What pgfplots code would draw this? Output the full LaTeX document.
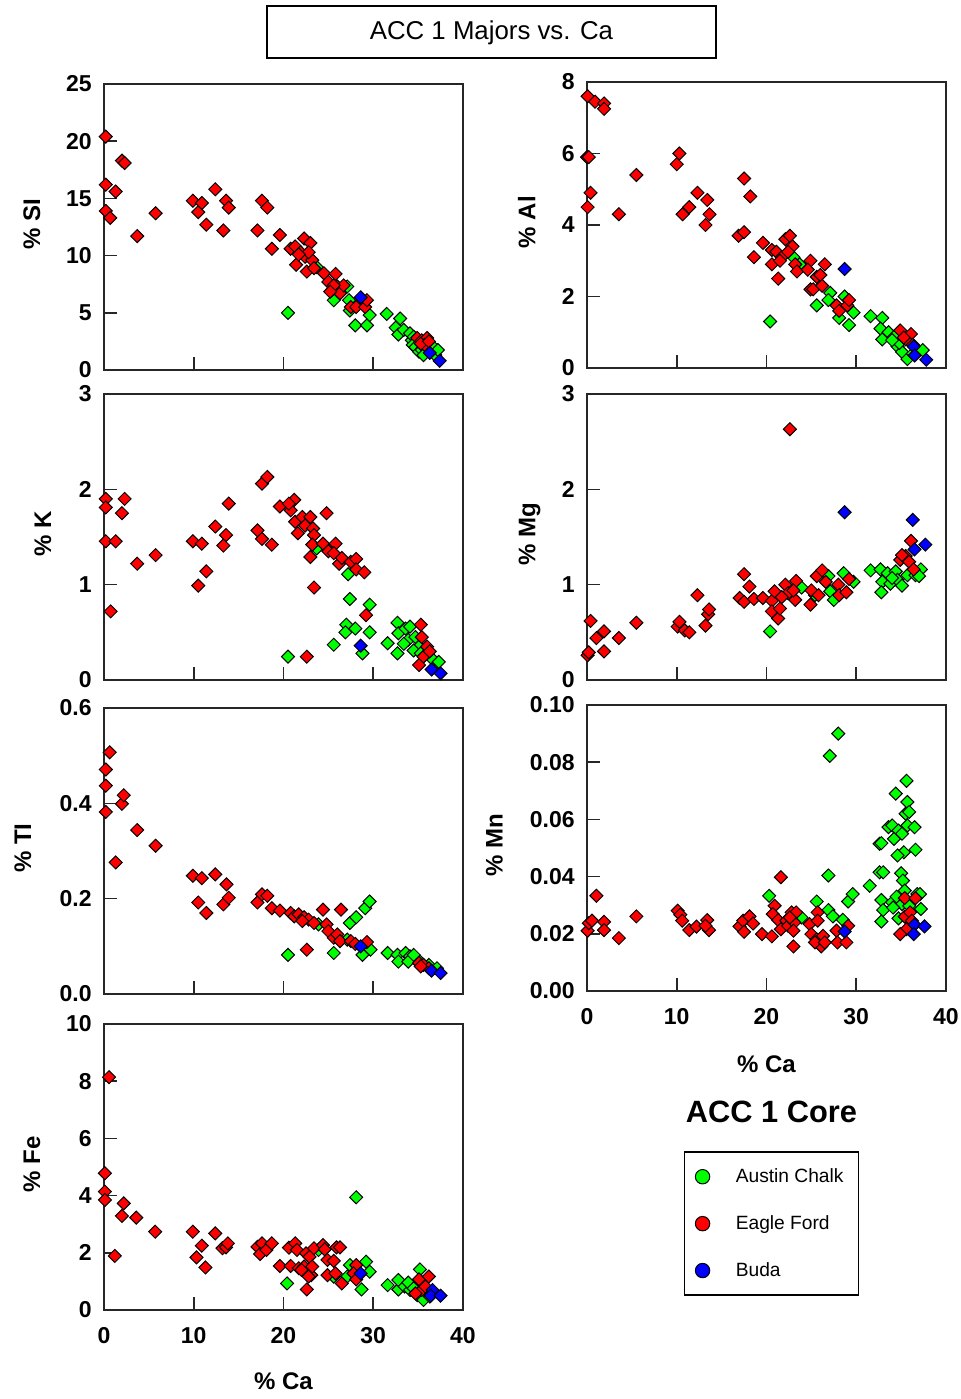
\documentclass[border=0pt]{standalone}
\usepackage{fontspec}
\setmainfont{Liberation Sans}
\usepackage{pgfplots}
\pgfplotsset{compat=1.18}

\definecolor{gA}{RGB}{0,255,0}
\definecolor{rE}{RGB}{255,0,0}
\definecolor{bB}{RGB}{0,0,255}

\pgfplotsset{
  panel/.style={
    scale only axis, width=179.5pt, height=143pt,
    xmin=0, xmax=40, xtick={0,10,20,30,40},
    axis line style={line width=0.8pt, black!85},
    major tick length=6.5pt,
    tick style={line width=0.8pt, black!85},
    tick align=inside, xtick pos=bottom, ytick pos=left,
    clip=false, scaled y ticks=false, scaled x ticks=false,
    /pgf/number format/assume math mode=true,
    tick label style={font=\fontsize{11.5}{13}\selectfont\bfseries, inner sep=0pt},
    yticklabel style={xshift=-6pt},
    xticklabel style={yshift=-8.5pt},
    label style={font=\fontsize{12}{14}\selectfont\bfseries},
    ylabel style={at={(axis description cs:#1,0.51)}, anchor=center},
    xlabel style={at={(axis description cs:0.5,-0.25)}, anchor=center},
  },
  ser/.style={only marks, mark=square*, mark size=2.3pt,
    mark options={rotate=45, fill=#1, draw=black, line width=0.5pt}, forget plot},
}

\begin{document}
\begin{tikzpicture}
\path[use as bounding box] (0pt,0pt) rectangle (480.5pt,-699.5pt);

% title
\draw[line width=0.8pt] (133.5pt,-3pt) rectangle (358pt,-29pt);
\node[font=\fontsize{12.9}{15}\selectfont, anchor=base] at (245.75pt,-19.5pt) {ACC 1 Majors vs. Ca};

% ---------- Si ----------
\begin{axis}[panel=-0.2006, at={(52pt,-42pt)}, anchor=north west,
  ymin=0, ymax=25, ytick={0,5,10,15,20,25}, xticklabels={}, ylabel={\% SI}]
\addplot[ser=gA] coordinates {(20.5,5.0) (23.7,9.0) (25.6,6.1) (27.1,7.3) (27.3,6.1) (27.4,5.2) (28.0,3.9) (29.3,3.9) (29.6,4.8)
 (31.5,4.9) (33.0,4.5) (32.5,3.7) (32.8,3.1) (33.4,3.5) (34.1,3.2) (34.3,2.6) (34.5,2.9) (34.4,2.2) (34.7,2.0) (35.1,1.6) (35.4,1.75) (35.6,1.3) (36.7,2.0) (36.9,1.3) (37.2,1.75)};
\addplot[ser=rE] coordinates {(0.19,20.4) (0.2,16.2) (0.2,13.9) (0.7,13.3) (1.3,15.6) (2.0,18.3) (2.3,18.1) (3.7,11.7) (5.75,13.7)
 (9.9,14.8) (10.5,13.8) (10.9,14.6) (11.4,12.7) (12.4,15.8) (13.3,12.2) (13.6,14.8) (13.9,14.2)
 (17.1,12.2) (17.6,14.8) (18.2,14.2) (18.7,10.6) (19.6,11.8) (20.8,10.6) (21.3,10.8) (21.4,9.2) (21.9,10.3) (22.3,11.5) (22.4,9.9)
 (22.6,8.6) (23.0,11.1) (23.2,9.6) (23.4,8.9) (22.8,10.3) (21.7,10.1) (24.5,8.45) (25.0,7.7) (25.8,8.4) (25.4,7.0) (26.0,7.3)
 (26.3,6.7) (26.7,7.4) (25.6,7.4) (25.2,6.85) (27.5,5.5) (28.1,5.5) (29.1,5.5) (29.3,6.1)
 (34.9,2.8) (35.4,2.6) (36.0,2.8) (35.7,2.2) (35.3,2.3) (36.2,2.5)};
\addplot[ser=bB] coordinates {(28.6,6.35) (36.3,1.5) (37.4,0.8)};
\end{axis}

% ---------- Al ----------
\begin{axis}[panel=-0.168, at={(293.5pt,-41pt)}, anchor=north west,
  ymin=0, ymax=8, ytick={0,2,4,6,8}, xticklabels={}, ylabel={\% Al}]
\addplot[ser=gA] coordinates {(20.4,1.3) (23.0,3.1) (23.7,2.9) (25.6,1.75) (27.1,2.1) (26.9,1.9) (28.1,1.4) (28.7,2.0) (29.2,1.2) (29.7,1.55)
 (31.6,1.45) (32.9,1.4) (32.7,1.1) (32.9,0.8) (33.6,1.0) (34.2,0.87) (34.6,0.6) (35.1,0.45) (35.7,0.25) (36.3,0.4) (37.4,0.5) (34.8,0.7) (34.0,0.78)};
\addplot[ser=rE] coordinates {(0.07,7.6) (0.9,7.45) (1.9,7.4) (1.9,7.25) (0,5.9) (0.2,5.9) (0.4,4.9) (0.07,4.5) (3.55,4.3) (5.5,5.4)
 (10.0,5.7) (10.3,6.0) (10.65,4.3) (11.4,4.5) (12.3,4.9) (13.4,4.7) (13.65,4.3) (13.2,4.0)
 (16.9,3.7) (17.5,3.8) (17.5,5.3) (18.2,4.8) (18.6,3.1) (19.6,3.5) (20.6,3.3) (20.6,2.9) (21.3,2.5)
 (21.1,3.25) (21.7,3.1) (22.1,3.6) (22.6,3.7) (22.9,3.4) (22.4,3.25) (23.2,2.9) (23.4,2.7) (21.5,3.0)
 (24.9,3.0) (24.6,2.75) (26.5,2.9) (25.6,2.55) (26.0,2.6) (24.9,2.2) (25.2,2.2) (26.2,2.3)
 (27.8,1.75) (28.1,1.6) (29.0,1.75) (29.2,1.9) (34.9,1.05) (36.1,0.95) (35.5,0.8) (36.3,0.65) (35.3,0.85)};
\addplot[ser=bB] coordinates {(28.7,2.77) (36.4,0.6) (36.5,0.35) (37.8,0.23)};
\end{axis}

% ---------- K ----------
\begin{axis}[panel=-0.170, at={(52pt,-197pt)}, anchor=north west,
  ymin=0, ymax=3, ytick={0,1,2,3}, xticklabels={}, ylabel={\% K}]
\addplot[ser=gA] coordinates {(20.5,0.245) (27.2,1.11) (27.4,0.85) (27.0,0.58) (26.9,0.5) (28.0,0.54) (25.6,0.37) (28.8,0.28) (29.6,0.79) (29.6,0.5) (23.7,1.38)
 (31.6,0.385) (32.7,0.6) (32.7,0.28) (32.8,0.49) (33.6,0.54) (34.1,0.56) (33.9,0.42) (34.7,0.45) (35.1,0.35) (34.5,0.31) (36.7,0.21) (37.3,0.19) (35.3,0.28) (33.4,0.38)};
\addplot[ser=rE] coordinates {(0.2,1.9) (0.2,1.81) (0.2,1.455) (0.74,0.72) (1.3,1.455) (2.0,1.75) (2.3,1.9) (3.7,1.22) (5.75,1.31)
 (9.9,1.455) (10.5,0.99) (10.9,1.43) (11.4,1.14) (12.4,1.61) (13.3,1.41) (13.6,1.52) (13.9,1.85)
 (17.1,1.57) (17.6,2.06) (18.2,2.13) (17.6,1.48) (18.7,1.42) (19.6,1.82) (20.8,1.78) (21.2,1.89) (20.6,1.85)
 (21.3,1.66) (21.6,1.54) (22.1,1.71) (22.4,1.62) (23.0,1.71) (23.3,1.59) (23.4,1.52) (23.2,1.42) (23.0,1.29) (23.4,0.97) (24.8,1.75)
 (24.4,1.43) (25.0,1.35) (25.8,1.43) (25.6,1.33) (26.2,1.22) (26.5,1.28) (27.5,1.24) (28.1,1.27) (28.1,1.16) (29.0,1.13) (29.2,0.68)
 (22.6,0.245) (35.3,0.58) (35.4,0.45) (36.0,0.35) (35.6,0.245) (35.1,0.157) (36.3,0.3)};
\addplot[ser=bB] coordinates {(28.6,0.36) (36.5,0.11) (37.5,0.07)};
\end{axis}

% ---------- Mg ----------
\begin{axis}[panel=-0.160, at={(293.5pt,-197pt)}, anchor=north west,
  ymin=0, ymax=3, ytick={0,1,2,3}, xticklabels={}, ylabel={\% Mg}]
\addplot[ser=gA] coordinates {(20.4,0.51) (23.9,0.97) (26.9,1.09) (27.1,0.93) (27.5,0.84) (28.6,1.12) (29.7,1.03) (25.4,0.89)
 (31.6,1.15) (32.7,1.16) (32.9,1.03) (32.8,0.92) (33.5,1.12) (33.8,1.01) (34.4,1.14) (34.6,1.05) (35.1,0.99) (35.7,1.1) (36.6,1.1) (37.2,1.16) (37.0,1.09) (34.0,1.07)};
\addplot[ser=rE] coordinates {(0.07,0.26) (0.2,0.29) (0.4,0.62) (1.05,0.44) (1.9,0.51) (1.9,0.30) (3.55,0.44) (5.5,0.6)
 (10.1,0.56) (10.3,0.61) (10.9,0.52) (11.4,0.50) (12.3,0.89) (13.2,0.57) (13.5,0.69) (13.6,0.74)
 (17.0,0.86) (17.5,1.11) (17.5,0.82) (18.1,0.98) (18.6,0.85) (19.6,0.86) (20.6,0.83) (20.6,0.72) (21.3,0.645) (21.5,0.75) (20.9,0.93)
 (22.6,2.63) (22.1,1.0) (22.4,0.91) (23.2,0.84) (23.3,1.04) (23.0,0.94) (21.7,0.87)
 (24.9,0.79) (25.0,0.94) (25.6,1.09) (25.8,0.89) (26.2,1.15) (26.6,1.03) (28.0,1.0) (28.1,0.89) (28.9,0.92) (29.2,1.06)
 (34.9,1.26) (35.5,1.3) (35.9,1.24) (36.1,1.46) (36.4,1.16) (35.1,1.31)};
\addplot[ser=bB] coordinates {(28.7,1.76) (36.3,1.68) (36.5,1.37) (37.7,1.42)};
\end{axis}

% ---------- Ti ----------
\begin{axis}[panel=-0.226, at={(52pt,-354pt)}, anchor=north west,
  ymin=0, ymax=0.6, ytick={0,0.2,0.4,0.6}, xticklabels={}, ylabel={\% TI},
  yticklabel style={/pgf/number format/.cd, fixed, fixed zerofill, precision=1}]
\addplot[ser=gA] coordinates {(20.5,0.082) (25.6,0.086) (27.4,0.149) (28.1,0.161) (29.1,0.18) (29.6,0.194) (28.8,0.082) (29.7,0.093) (27.1,0.114) (23.9,0.146)
 (31.6,0.086) (32.7,0.082) (32.8,0.068) (33.6,0.086) (34.1,0.079) (34.7,0.072) (35.2,0.068) (36.2,0.061) (37.1,0.054) (33.9,0.068) (34.5,0.082)};
\addplot[ser=rE] coordinates {(0.63,0.507) (0.2,0.471) (0.2,0.437) (0.2,0.382) (1.3,0.276) (2.0,0.399) (2.2,0.417) (3.7,0.344) (5.75,0.311)
 (9.9,0.248) (10.5,0.192) (10.9,0.243) (11.4,0.17) (12.4,0.251) (13.3,0.188) (13.65,0.23) (13.9,0.202)
 (17.1,0.192) (17.6,0.209) (18.2,0.206) (18.7,0.18) (19.6,0.175)
 (20.8,0.17) (21.2,0.163) (21.7,0.167) (22.3,0.161) (22.8,0.156) (23.4,0.149) (22.1,0.153) (22.6,0.093)
 (24.4,0.177) (26.4,0.177) (24.8,0.146) (25.0,0.132) (25.6,0.118) (26.0,0.125) (26.3,0.111) (27.5,0.111) (28.0,0.105) (29.3,0.109)
 (35.1,0.065) (35.6,0.061) (36.2,0.054) (35.3,0.058)};
\addplot[ser=bB] coordinates {(28.6,0.1) (36.5,0.049) (37.5,0.044)};
\end{axis}

% ---------- Mn ----------
\begin{axis}[panel=-0.258, at={(293.5pt,-352.5pt)}, anchor=north west,
  ymin=0, ymax=0.1, ytick={0,0.02,0.04,0.06,0.08,0.1}, ylabel={\% Mn}, xlabel={\% Ca},
  xlabel style={at={(axis description cs:0.5,-0.256)}},
  yticklabel style={/pgf/number format/.cd, fixed, fixed zerofill, precision=2},
  legend style={at={(axis description cs:0.269,-0.561)}, anchor=north west, draw=black, line width=0.8pt,
    font=\fontsize{9.6}{11}\selectfont, row sep=11pt, column sep=11pt, inner xsep=5.5pt, inner ysep=6pt},
  legend cell align=left]
\addplot[ser=gA] coordinates {(28.0,0.09) (27.05,0.0822)
 (35.6,0.0735) (34.4,0.069) (35.7,0.0661) (35.5,0.062) (35.9,0.0626) (33.6,0.0573) (34.0,0.0579) (34.7,0.0561) (35.7,0.0579) (36.5,0.0573)
 (34.2,0.0532) (35.1,0.055) (32.6,0.0515) (32.8,0.0517) (35.3,0.0485) (34.6,0.0474) (36.6,0.0494)
 (32.6,0.0415) (33.0,0.0415) (35.0,0.0412) (35.2,0.0386) (31.5,0.0368) (35.4,0.0351) (32.8,0.0318) (34.0,0.031) (34.5,0.033) (35.1,0.0304)
 (36.8,0.0339) (37.1,0.0339) (33.0,0.0283) (37.2,0.0287) (32.8,0.0243) (34.7,0.0254) (34.1,0.0292) (35.9,0.0298)
 (20.3,0.0333) (23.9,0.0257) (25.6,0.0313) (26.9,0.0404) (26.9,0.0283) (27.4,0.0261) (28.5,0.0249) (29.1,0.0313) (29.6,0.0339)};
\addplot[ser=rE] coordinates {(0.07,0.0211) (0.2,0.0237) (0.56,0.0246) (1.05,0.0333) (1.9,0.0242) (1.9,0.0213) (3.55,0.0185) (5.5,0.0261)
 (10.1,0.0281) (10.4,0.0267) (10.6,0.0246) (11.4,0.0213) (12.2,0.0225) (13.4,0.0248) (13.6,0.0213) (13.2,0.0228)
 (17.0,0.0226) (17.4,0.0246) (17.5,0.0207) (18.1,0.0261) (18.5,0.0236) (19.5,0.0199) (20.6,0.0191)
 (21.6,0.0398) (20.9,0.0298) (20.7,0.0269) (21.3,0.0248) (21.6,0.0216) (22.2,0.0246) (22.4,0.0228) (22.8,0.0275) (23.1,0.024) (23.3,0.0275) (23.0,0.0211) (22.6,0.0257) (23.0,0.0156)
 (24.8,0.0234) (25.0,0.0199) (25.6,0.0181) (25.7,0.0275) (25.7,0.0246) (26.1,0.0156) (26.3,0.0193) (25.4,0.017) (26.5,0.017) (27.8,0.0211) (27.9,0.017) (28.9,0.017) (29.1,0.0228)
 (35.4,0.0325) (36.6,0.0325) (35.4,0.026) (36.0,0.0275) (35.6,0.0216) (34.9,0.0199) (36.2,0.0246)};
\addplot[ser=bB] coordinates {(28.7,0.0208) (36.5,0.0232) (36.4,0.0199) (37.6,0.0226)};
\addlegendimage{only marks, mark=*, mark size=3.6pt, mark options={fill=gA, draw=black, line width=0.5pt}}
\addlegendentry{Austin Chalk}
\addlegendimage{only marks, mark=*, mark size=3.6pt, mark options={fill=rE, draw=black, line width=0.5pt}}
\addlegendentry{Eagle Ford}
\addlegendimage{only marks, mark=*, mark size=3.6pt, mark options={fill=bB, draw=black, line width=0.5pt}}
\addlegendentry{Buda}
\end{axis}

% ---------- Fe ----------
\begin{axis}[panel=-0.2006, at={(52pt,-512pt)}, anchor=north west,
  ymin=0, ymax=10, ytick={0,2,4,6,8,10}, ylabel={\% Fe}, xlabel={\% Ca},
  xlabel style={at={(axis description cs:0.5,-0.248)}}]
\addplot[ser=gA] coordinates {(20.4,0.93) (28.1,3.94) (28.7,0.72) (29.2,1.69) (27.1,1.17) (27.4,1.57) (25.6,1.17) (29.6,1.34) (23.9,2.1)
 (31.6,0.87) (32.8,0.72) (32.8,1.05) (33.5,0.82) (34.1,0.7) (35.2,1.42) (34.9,0.52) (35.6,0.35) (36.3,0.47) (33.9,0.96) (34.5,0.76)};
\addplot[ser=rE] coordinates {(0.56,8.14) (0.1,4.78) (0.1,4.14) (0.1,3.85) (1.2,1.89) (2.2,3.73) (2.0,3.29) (3.6,3.23) (5.7,2.74)
 (9.9,2.74) (10.3,1.84) (10.9,2.25) (11.3,1.49) (12.4,2.68) (13.2,2.16) (13.6,2.19) (13.8,2.33)
 (17.1,2.21) (17.6,2.33) (17.4,1.96) (18.1,2.1) (18.7,2.33) (19.6,1.54)
 (20.6,2.18) (20.8,1.54) (21.3,2.33) (21.5,2.1) (21.7,1.46) (22.3,1.52) (22.5,1.98) (22.6,0.72) (22.9,1.86) (23.1,1.22) (23.2,1.52) (23.4,2.16) (22.8,1.17) (22.0,1.4)
 (24.4,2.27) (24.6,2.12) (25.9,2.19) (26.3,2.19) (24.9,1.75) (25.6,1.72) (24.9,1.22) (25.8,1.28) (26.5,0.93) (28.1,1.57) (27.8,1.28) (28.1,1.07)
 (35.1,1.07) (35.4,0.7) (36.2,1.17) (35.8,0.82) (34.7,0.58)};
\addplot[ser=bB] coordinates {(28.6,1.28) (36.6,0.7) (36.4,0.5) (37.5,0.5)};
\end{axis}

\node[font=\fontsize{15.4}{17}\selectfont\bfseries] at (385.75pt,-556pt) {ACC 1 Core};
\end{tikzpicture}
\end{document}
